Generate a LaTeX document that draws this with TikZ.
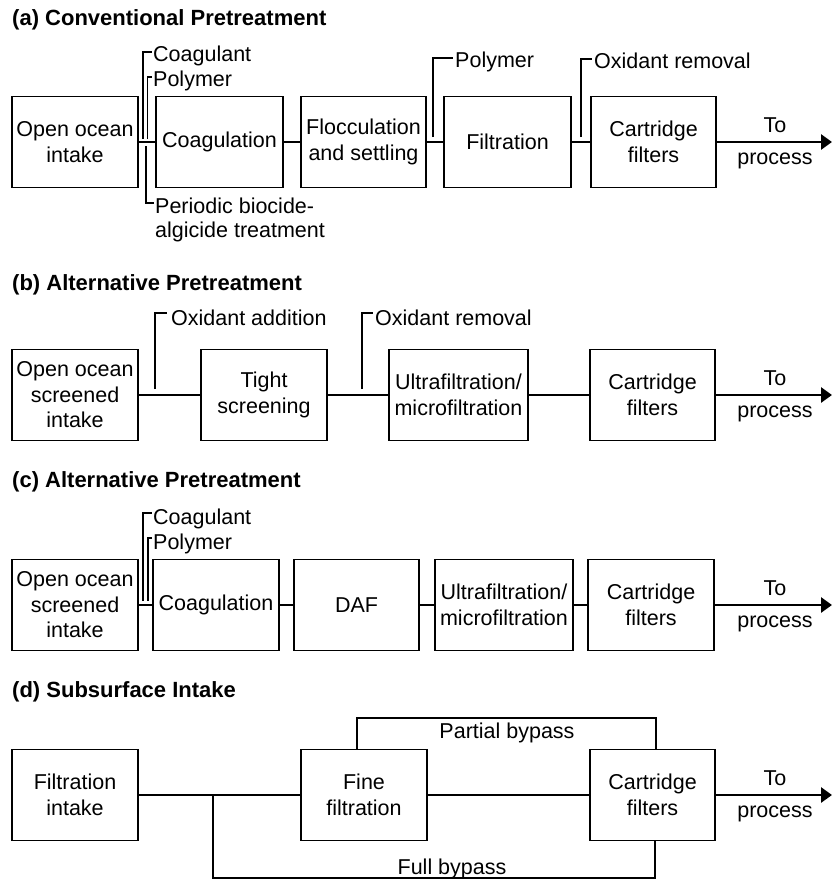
\documentclass[tikz,border=0pt]{standalone}
\usepackage{fontspec}
\setmainfont{Liberation Sans}
\usetikzlibrary{arrows.meta}
\begin{document}
\begin{tikzpicture}[x=1pt,y=-1pt,
  box/.style={draw, line width=1.4pt, align=center, inner sep=0pt, minimum height=91pt, font=\fontsize{21.5}{25.5}\selectfont},
  flow/.style={line width=2.8pt},
  feed/.style={line width=1.5pt},
  lbl/.style={inner sep=0pt, font=\fontsize{21.5}{25.5}\selectfont},
  ttl/.style={inner sep=0pt, anchor=base west, font=\bfseries\fontsize{22}{26}\selectfont},
  outarrow/.style={flow, -{Triangle[length=11pt,width=15pt]}}
]
\useasboundingbox (0,0) rectangle (832,880);

% ---------------- (a)
\node[ttl] (ta) at (12,26) {(a) Conventional Pretreatment};
\node[box, minimum width=126pt] (a1) at (75,142) {Open ocean\\intake};
\node[box, minimum width=127pt] (a2) at (219.5,142) {Coagulation};
\node[box, minimum width=125pt] (a3) at (363.5,142) {Flocculation\\and settling};
\node[box, minimum width=127pt] (a4) at (507.5,142) {Filtration};
\node[box, minimum width=125pt] (a5) at (653.5,142) {Cartridge\\filters};
\coordinate (aend) at (832,142);
\draw[flow] (a1) -- (a2);
\draw[flow] (a2) -- (a3);
\draw[flow] (a3) -- (a4);
\draw[flow] (a4) -- (a5);
\draw[outarrow] (a5) -- (aend);
\node[lbl, anchor=base] (ato) at (775,132) {To};
\node[lbl, anchor=base] (apr) at (775,164) {process};
% feeds
\coordinate (ac1) at (143,139); \coordinate (ac2) at (143,52); \coordinate (ac3) at (152,52);
\draw[feed] (ac1) -- (ac2) -- (ac3);
\node[lbl, anchor=base west] (acl) at (153,62) {Coagulant};
\coordinate (ap1) at (147.5,139); \coordinate (ap2) at (147.5,77); \coordinate (ap3) at (152,77);
\draw[feed] (ap1) -- (ap2) -- (ap3);
\node[lbl, anchor=base west] (apl) at (153,87) {Polymer};
\coordinate (ab1) at (146,146); \coordinate (ab2) at (146,203); \coordinate (ab3) at (154,203);
\draw[feed] (ab1) -- (ab2) -- (ab3);
\node[lbl, anchor=base west] (abl) at (155,213) {Periodic biocide-};
\node[lbl, anchor=base west] (abl2) at (155,237) {algicide treatment};
\coordinate (aq1) at (433,137); \coordinate (aq2) at (433,58); \coordinate (aq3) at (453,58);
\draw[feed] (aq1) -- (aq2) -- (aq3);
\node[lbl, anchor=base west] (aql) at (455,68) {Polymer};
\coordinate (ao1) at (581,137); \coordinate (ao2) at (581,59); \coordinate (ao3) at (592,59);
\draw[feed] (ao1) -- (ao2) -- (ao3);
\node[lbl, anchor=base west] (aol) at (594,69) {Oxidant removal};

% ---------------- (b)
\node[ttl] (tb) at (12,290) {(b) Alternative Pretreatment};
\node[box, minimum width=126pt] (b1) at (75,395) {Open ocean\\screened\\intake};
\node[box, minimum width=126pt] (b2) at (264,395) {Tight\\screening};
\node[box, minimum width=139pt] (b3) at (458.5,395) {Ultrafiltration/\\microfiltration};
\node[box, minimum width=125pt] (b4) at (652.5,395) {Cartridge\\filters};
\coordinate (bend) at (832,395);
\draw[flow] (b1) -- (b2);
\draw[flow] (b2) -- (b3);
\draw[flow] (b3) -- (b4);
\draw[outarrow] (b4) -- (bend);
\node[lbl, anchor=base] (bto) at (775,385) {To};
\node[lbl, anchor=base] (bpr) at (775,417) {process};
\coordinate (bo1) at (155,389); \coordinate (bo2) at (155,313); \coordinate (bo3) at (167,313);
\draw[feed] (bo1) -- (bo2) -- (bo3);
\node[lbl, anchor=base west] (bol) at (171,325) {Oxidant addition};
\coordinate (br1) at (362,389); \coordinate (br2) at (362,313); \coordinate (br3) at (373,313);
\draw[feed] (br1) -- (br2) -- (br3);
\node[lbl, anchor=base west] (brl) at (375,325) {Oxidant removal};

% ---------------- (c)
\node[ttl] (tc) at (12,487) {(c) Alternative Pretreatment};
\node[box, minimum width=126pt] (c1) at (75,605) {Open ocean\\screened\\intake};
\node[box, minimum width=126pt] (c2) at (216,605) {Coagulation};
\node[box, minimum width=125pt] (c3) at (356.5,605) {DAF};
\node[box, minimum width=138pt] (c4) at (504,605) {Ultrafiltration/\\microfiltration};
\node[box, minimum width=126pt] (c5) at (651,605) {Cartridge\\filters};
\coordinate (cend) at (832,605);
\draw[flow] (c1) -- (c2);
\draw[flow] (c2) -- (c3);
\draw[flow] (c3) -- (c4);
\draw[flow] (c4) -- (c5);
\draw[outarrow] (c5) -- (cend);
\node[lbl, anchor=base] (cto) at (775,595) {To};
\node[lbl, anchor=base] (cpr) at (775,627) {process};
\coordinate (cc1) at (143,601); \coordinate (cc2) at (143,513); \coordinate (cc3) at (152,513);
\draw[feed] (cc1) -- (cc2) -- (cc3);
\node[lbl, anchor=base west] (ccl) at (153,524) {Coagulant};
\coordinate (cp1) at (148,601); \coordinate (cp2) at (148,538); \coordinate (cp3) at (152,538);
\draw[feed] (cp1) -- (cp2) -- (cp3);
\node[lbl, anchor=base west] (cpl) at (153,549) {Polymer};

% ---------------- (d)
\node[ttl] (td) at (12,697) {(d) Subsurface Intake};
\node[box, minimum width=126pt] (d1) at (75,795) {Filtration\\intake};
\node[box, minimum width=126pt] (d2) at (364,795) {Fine\\filtration};
\node[box, minimum width=125pt] (d3) at (652.5,795) {Cartridge\\filters};
\coordinate (dend) at (832,795);
\coordinate (dj) at (213,795);
\draw[flow] (d1) -- (dj) -- (d2);
\draw[flow] (d2) -- (d3);
\draw[outarrow] (d3) -- (dend);
\node[lbl, anchor=base] (dto) at (775,785) {To};
\node[lbl, anchor=base] (dpr) at (775,817) {process};
\coordinate (fbl) at (213,878); \coordinate (fbr) at (655,878);
\draw[feed] (dj) -- (fbl) -- (fbr) -- (fbr |- d3.south);
\node[lbl, anchor=base] (fbt) at (452,874) {Full bypass};
\coordinate (pbl) at (357,718); \coordinate (pbr) at (656,718);
\draw[feed] (pbl |- d2.north) -- (pbl) -- (pbr) -- (pbr |- d3.north);
\node[lbl, anchor=base] (pbt) at (507,738) {Partial bypass};
\end{tikzpicture}
\end{document}
